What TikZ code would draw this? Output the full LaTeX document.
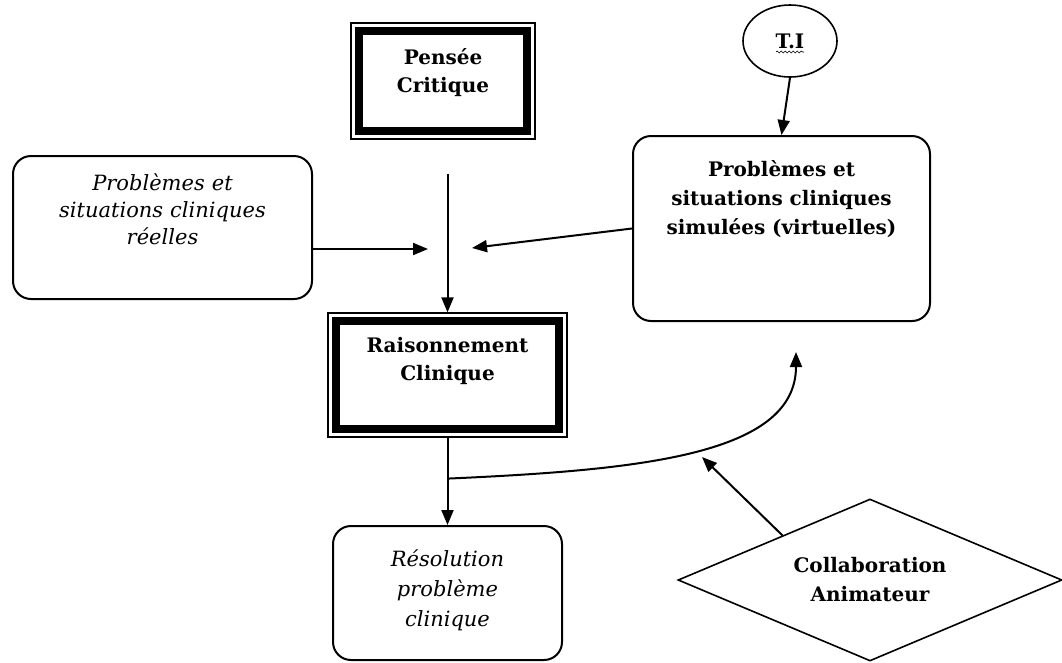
\documentclass[tikz,border=0pt]{standalone}
\usepackage{fontspec}
\setmainfont{DejaVu Serif}
\usetikzlibrary{arrows.meta,shapes.geometric,fit,decorations.pathmorphing}
\tikzset{
  arr/.style={line width=2pt,-{Triangle[length=15pt,width=12pt]}},
  heavybox/.style={draw,line width=8pt,inner sep=0pt,outer sep=0pt,align=center,
    font=\fontsize{20}{28}\selectfont\bfseries},
  thinframe/.style={draw,line width=1.2pt,inner sep=8pt},
  softbox/.style={draw,line width=2pt,rounded corners=18pt,inner sep=0pt,align=center},
  boldtxt/.style={font=\fontsize{20}{29}\selectfont\bfseries},
  itxt/.style={font=\fontsize{21}{#1}\selectfont\itshape},
}
\begin{document}
\begin{tikzpicture}[x=1pt,y=-1pt]
\useasboundingbox (0,0) rectangle (1062,662);
%
\node[heavybox,text width=168pt,text height=33pt,text depth=67pt,anchor=north] (pc) at (443,31) {Pensée\\Critique};
\node[thinframe,fit=(pc)] (pco) {};
\node[heavybox,text width=223pt,text height=31pt,text depth=77pt,anchor=north] (rc) at (447.5,321) {Raisonnement\\Clinique};
\node[thinframe,fit=(rc)] (rco) {};
%
\node[softbox,itxt=27,text width=299pt,text height=34pt,text depth=109pt,anchor=north] (rl) at (162.5,155) {Problèmes et\\situations cliniques\\réelles};
\node[softbox,boldtxt,text width=297pt,text height=40pt,text depth=145pt,anchor=north] (sim) at (781.5,135) {Problèmes et\\situations cliniques\\simulées (virtuelles)};
\node[softbox,itxt=30,text width=229pt,text height=40pt,text depth=94pt,anchor=north] (rs) at (447.5,525) {Résolution\\problème\\clinique};
%
\node[ellipse,draw,line width=1.6pt,minimum width=94pt,minimum height=72pt,boldtxt] (ti) at (790,41) {T.I};
\draw[decorate,decoration={snake,amplitude=1pt,segment length=4pt},line width=0.6pt]
  ([xshift=-14pt,yshift=-11pt]ti.center)--++(28pt,0);
\node[diamond,draw,line width=1.6pt,aspect=2.4,minimum width=384pt,minimum height=162pt,
  inner sep=0pt,align=center,boldtxt] (cl) at (870,580) {Collaboration\\Animateur};
%
\coordinate (jr) at (428,249);
\coordinate (jl) at (472,248);
\coordinate (jb) at ([yshift=-41pt]rco.south);
\coordinate (jc) at (796,352);
\coordinate (jd) at (702,457);
%
\draw[arr] (ti.south)--(sim.north);
\draw[arr] ([yshift=-34pt]pco.south -| rco.north)--(rco.north);
\draw[arr] (rl.east |- jr)--(jr);
\draw[arr] (sim.west)--(jl);
\draw[arr] (rco.south)--(rs.north);
\draw[arr] (jb) .. controls (640,470) and (796,455) .. (jc);
\draw[arr] (cl.153)--(jd);
\end{tikzpicture}
\end{document}
